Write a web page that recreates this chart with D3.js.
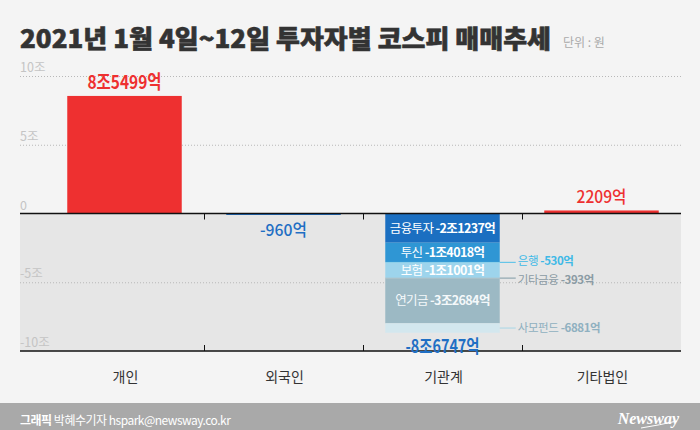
<!DOCTYPE html>
<html>
<head>
<meta charset="utf-8">
<script src="https://cdn.jsdelivr.net/npm/d3@7"></script>
<style>
  body { margin: 0; background: #f4f4f4; }
  svg { display: block; font-family: "Noto Sans CJK KR", "Noto Sans", sans-serif; }
</style>
</head>
<body>
<svg id="chart" width="700" height="430"></svg>
<script>
// DATA (억원)
const categories = ["개인", "외국인", "기관계", "기타법인"];
const netValues = [85499, -960, -86747, 2209];
const netLabels = ["8조5499억", "-960억", "-8조6747억", "2209억"];

const instNames = ["금융투자", "투신", "은행", "보험", "기타금융", "연기금", "사모펀드"];
const instValues = [-21237, -14018, -530, -11001, -393, -32684, -6881];
const instLabels = ["-2조1237억", "-1조4018억", "-530억", "-1조1001억", "-393억", "-3조2684억", "-6881억"];

const yTicks = [10, 5, 0, -5, -10];
const yTickLabels = ["10조", "5조", "0", "-5조", "-10조"];

// CANVAS SETUP
const svg = d3.select("#chart");
const width = 700,
  height = 430;
const plot = { left: 20, right: 681, top: 76, bottom: 351, barLeft: 45 };

svg.append("rect").attr("width", width).attr("height", height).attr("fill", "#f4f4f4");

const x = d3
  .scaleBand()
  .domain(categories)
  .range([plot.barLeft, plot.right])
  .paddingInner(0.28)
  .paddingOuter(0.14);

const y = d3.scaleLinear().domain([-10, 10]).range([plot.bottom, plot.top]);
const jo = (v) => v / 10000; // 억 -> 조

// negative area background
svg
  .append("rect")
  .attr("x", plot.left)
  .attr("y", y(0))
  .attr("width", plot.right - plot.left)
  .attr("height", y(-10) - y(0))
  .attr("fill", "#e6e6e6");

// gridlines + labels
const grid = svg.append("g");
grid
  .selectAll("line")
  .data(yTicks.filter((d) => d !== 0 && d !== -10))
  .join("line")
  .attr("x1", plot.left)
  .attr("x2", plot.right)
  .attr("y1", (d) => y(d) + 0.5)
  .attr("y2", (d) => y(d) + 0.5)
  .attr("stroke", "#b8b8b8")
  .attr("stroke-dasharray", "1,2");

grid
  .selectAll("text")
  .data(yTicks)
  .join("text")
  .attr("x", plot.left)
  .attr("y", (d) => y(d) - 4)
  .attr("font-size", 12.5)
  .attr("fill", "#c4c4c4")
  .text((d, i) => yTickLabels[i]);

// bars (single value)
const bars = svg.append("g");
const single = categories
  .map((c, i) => ({ c, v: netValues[i], label: netLabels[i] }))
  .filter((d) => d.c !== "기관계");

const barColor = (v) => (v >= 0 ? "#ee3030" : "#1f6fc4");

bars
  .selectAll("rect")
  .data(single)
  .join("rect")
  .attr("x", (d) => x(d.c))
  .attr("width", x.bandwidth())
  .attr("y", (d) => Math.min(y(jo(d.v)), y(0)))
  .attr("height", (d) => Math.max(1.5, Math.abs(y(jo(d.v)) - y(0))))
  .attr("fill", (d) => barColor(d.v));

// stacked 기관계
const segColors = ["#1b6fc1", "#2f96d4", "#5cc4ea", "#9dd4ec", "#8aa4ae", "#9cb9c4", "#d3e7ee"];
const lineColors = ["", "", "#4cbfe8", "", "#7f99a4", "", "#a8d6e6"];
const textColors = ["", "", "#3fb9e6", "", "#8b9ba4", "", "#8fb0c0"];
let acc = 0;
const segs = instNames.map((n, i) => {
  const s = { name: n, v: instValues[i], label: instLabels[i], y0: acc, y1: acc + instValues[i], i };
  acc += instValues[i];
  return s;
});
const inside = new Set(["금융투자", "투신", "보험", "연기금"]);

const sx = x("기관계"),
  sw = x.bandwidth();
const stack = svg.append("g");
stack
  .selectAll("rect")
  .data(segs)
  .join("rect")
  .attr("x", sx)
  .attr("width", sw)
  .attr("y", (d) => y(jo(d.y0)))
  .attr("height", (d) => y(jo(d.y1)) - y(jo(d.y0)))
  .attr("fill", (d) => segColors[d.i]);

const inLabels = stack
  .selectAll("text")
  .data(segs.filter((d) => inside.has(d.name)))
  .join("text")
  .attr("x", sx + sw / 2)
  .attr("y", (d) => (y(jo(d.y0)) + y(jo(d.y1))) / 2)
  .attr("dy", "0.36em")
  .attr("text-anchor", "middle")
  .attr("font-size", 12.5)
  .attr("letter-spacing", -0.6)
  .attr("fill", (d) => (d.name === "연기금" ? "#f4f8fa" : "#fff"));
inLabels.append("tspan").text((d) => d.name + " ");
inLabels
  .append("tspan")
  .attr("font-weight", "bold")
  .text((d) => d.label);

// outside annotations
const outSegs = segs.filter((d) => !inside.has(d.name));
const labelY = { 은행: 261, 기타금융: 279.5, 사모펀드: 328 };
const ann = svg.append("g");
ann
  .selectAll("line")
  .data(outSegs)
  .join("line")
  .attr("x1", sx + sw)
  .attr("x2", sx + sw + 16)
  .attr("y1", (d) => (y(jo(d.y0)) + y(jo(d.y1))) / 2)
  .attr("y2", (d) => (y(jo(d.y0)) + y(jo(d.y1))) / 2)
  .attr("stroke", (d) => lineColors[d.i])
  .attr("stroke-width", 1);
const outText = ann
  .selectAll("text")
  .data(outSegs)
  .join("text")
  .attr("x", sx + sw + 18)
  .attr("y", (d) => labelY[d.name])
  .attr("dy", "0.36em")
  .attr("font-size", 11.5)
  .attr("letter-spacing", -0.4)
  .attr("fill", (d) => textColors[d.i]);
outText.append("tspan").text((d) => d.name + " ");
outText
  .append("tspan")
  .attr("font-weight", "bold")
  .text((d) => d.label);

// axis lines
svg
  .append("line")
  .attr("x1", plot.left)
  .attr("x2", plot.right)
  .attr("y1", y(0))
  .attr("y2", y(0))
  .attr("stroke", "#111")
  .attr("stroke-width", 1.3);
svg
  .append("line")
  .attr("x1", plot.left)
  .attr("x2", plot.right)
  .attr("y1", plot.bottom)
  .attr("y2", plot.bottom)
  .attr("stroke", "#111")
  .attr("stroke-width", 1.3);

const bounds = categories.slice(1).map((c) => x(c) - (x.step() * x.paddingInner()) / 2);
const ticks = svg.append("g");
ticks
  .selectAll(".t1")
  .data(bounds)
  .join("line")
  .attr("x1", (d) => Math.round(d) + 0.5)
  .attr("x2", (d) => Math.round(d) + 0.5)
  .attr("y1", y(0))
  .attr("y2", y(0) + 6)
  .attr("stroke", "#111");
ticks
  .selectAll(".t2")
  .data(bounds)
  .join("line")
  .attr("x1", (d) => Math.round(d) + 0.5)
  .attr("x2", (d) => Math.round(d) + 0.5)
  .attr("y1", plot.bottom)
  .attr("y2", plot.bottom - 6)
  .attr("stroke", "#111");

// value labels
const valueLabel = svg.append("g");
const labelData = categories.map((c, i) => ({ c, v: netValues[i], label: netLabels[i] }));
const labelSize = { 개인: 19, 외국인: 16.5, 기관계: 18, 기타법인: 17 };
const labelLen = { 개인: 74, 외국인: 47, 기관계: 74, 기타법인: 50 };
valueLabel
  .selectAll("text")
  .data(labelData)
  .join("text")
  .attr("x", (d) => x(d.c) + x.bandwidth() / 2)
  .attr("y", (d) => {
    if (d.c === "기관계") return y(jo(d.v)) + 20;
    return d.v >= 0 ? y(jo(d.v)) - 7 : y(0) + 22;
  })
  .attr("text-anchor", "middle")
  .attr("font-size", (d) => labelSize[d.c])
  .attr("font-weight", (d) => (d.c === "개인" || d.c === "기관계" ? "bold" : 500))
  .attr("textLength", (d) => labelLen[d.c])
  .attr("lengthAdjust", "spacingAndGlyphs")
  .attr("fill", (d) => barColor(d.v))
  .text((d) => d.label);

// category labels
svg
  .append("g")
  .selectAll("text")
  .data(categories)
  .join("text")
  .attr("x", (d) => x(d) + x.bandwidth() / 2 + 1)
  .attr("y", 382)
  .attr("text-anchor", "middle")
  .attr("font-size", 14)
  .attr("fill", "#333")
  .text((d) => d);

// title
svg
  .append("text")
  .attr("x", 20)
  .attr("y", 48)
  .attr("font-size", 25)
  .attr("font-weight", 900)
  .attr("fill", "#333")
  .attr("stroke", "#333")
  .attr("stroke-width", 0.6)
  .attr("textLength", 531)
  .attr("lengthAdjust", "spacingAndGlyphs")
  .text("2021년 1월 4일~12일 투자자별 코스피 매매추세");
svg
  .append("text")
  .attr("x", 563)
  .attr("y", 47)
  .attr("font-size", 12)
  .attr("fill", "#aaa")
  .text("단위 : 원");

// footer
svg.append("rect").attr("x", 0).attr("y", 403).attr("width", width).attr("height", 27).attr("fill", "#a9a9a9");
const credit = svg
  .append("text")
  .attr("x", 20)
  .attr("y", 425)
  .attr("font-size", 12)
  .attr("fill", "#fff")
  .attr("letter-spacing", -0.5);
credit.append("tspan").attr("font-weight", "bold").text("그래픽 ");
credit.append("tspan").text("박혜수기자 hspark@newsway.co.kr");

svg
  .append("text")
  .attr("x", 679)
  .attr("y", 424)
  .attr("text-anchor", "end")
  .attr("font-family", "'Liberation Serif', serif")
  .attr("font-style", "italic")
  .attr("font-weight", "bold")
  .attr("font-size", 16)
  .attr("fill", "#fff")
  .text("Newsway");
svg
  .append("path")
  .attr("d", "M641,428 Q660,425 677,421")
  .attr("fill", "none")
  .attr("stroke", "#fff")
  .attr("stroke-width", 1);
</script>
</body>
</html>
